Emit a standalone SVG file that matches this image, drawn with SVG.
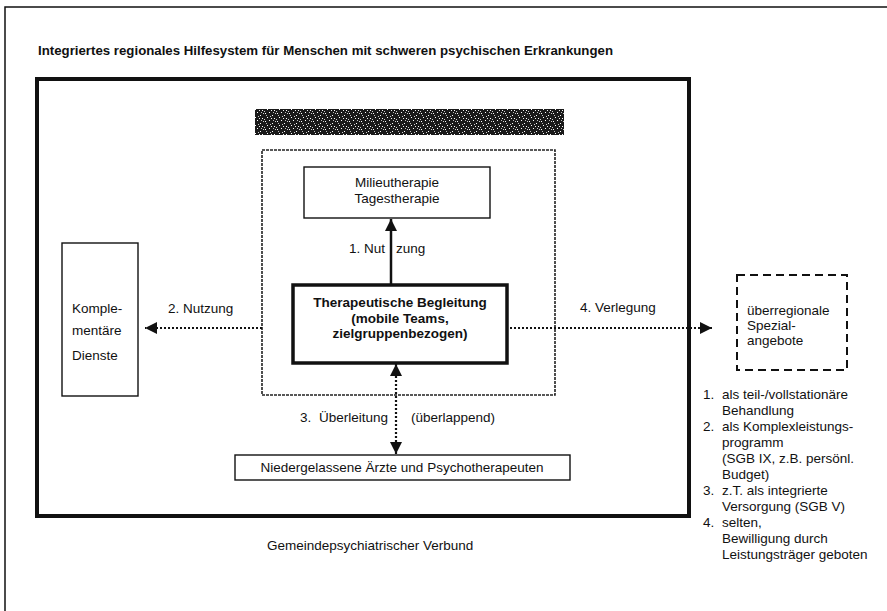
<svg xmlns="http://www.w3.org/2000/svg" width="887" height="611" viewBox="0 0 887 611">
<style>
text{font-family:"Liberation Sans",Arial,sans-serif;fill:#111;font-size:13.5px}
.b{font-weight:bold}
.box{fill:#fff;stroke:#111;stroke-width:1.4}
.dot{stroke:#111;stroke-width:2.2;stroke-dasharray:2,2;fill:none}
</style>
<defs>
<pattern id="noise" width="12" height="8" patternUnits="userSpaceOnUse">
<rect width="12" height="8" fill="#1a1a1a"/>
<rect x="1" y="1" width="1" height="1" fill="#fff"/>
<rect x="5" y="0" width="1" height="1" fill="#fff"/>
<rect x="8" y="3" width="1" height="1" fill="#fff"/>
<rect x="3" y="5" width="1" height="1" fill="#fff"/>
<rect x="10" y="6" width="1" height="1" fill="#fff"/>
<rect x="6" y="4" width="1" height="1" fill="#ccc"/>
<rect x="0" y="7" width="1" height="1" fill="#ccc"/>
<rect x="11" y="1" width="1" height="1" fill="#ccc"/>
<rect x="2" y="3" width="1" height="1" fill="#bbb"/>
<rect x="9" y="0" width="1" height="1" fill="#bbb"/>
<rect x="7" y="6" width="1" height="1" fill="#eee"/>
</pattern>
<marker id="ah" viewBox="0 0 10 10" refX="10" refY="5" markerWidth="12" markerHeight="12" markerUnits="userSpaceOnUse" orient="auto-start-reverse">
<path d="M0,0 L10,5 L0,10 z" fill="#111"/>
</marker>
</defs>
<rect width="887" height="611" fill="#fff"/>
<g id="frame">
<path d="M5,611 V7 H887" fill="none" stroke="#111" stroke-width="1.5"/>
<text class="b" x="38" y="55" font-size="14" textLength="575" lengthAdjust="spacingAndGlyphs">Integriertes regionales Hilfesystem für Menschen mit schweren psychischen Erkrankungen</text>
</g>
<g id="verbund">
<rect x="37" y="79" width="652" height="437" fill="none" stroke="#111" stroke-width="4"/>
<text x="267" y="550">Gemeindepsychiatrischer Verbund</text>
</g>
<g id="header">
<rect x="255" y="109" width="309" height="26" fill="url(#noise)"/>
</g>
<g id="klinik">
<rect x="262" y="150" width="293" height="245" fill="none" stroke="#222" stroke-width="1.6" stroke-dasharray="3,1"/>
</g>
<g id="milieu">
<rect class="box" x="304" y="167" width="186" height="51"/>
<text x="397" y="187" text-anchor="middle">Milieutherapie</text>
<text x="397" y="203" text-anchor="middle">Tagestherapie</text>
</g>
<g id="begleitung">
<rect x="293" y="285" width="214" height="78" fill="#fff" stroke="#111" stroke-width="3.5"/>
<text class="b" x="400" y="307" text-anchor="middle">Therapeutische Begleitung</text>
<text class="b" x="400" y="323" text-anchor="middle">(mobile Teams,</text>
<text class="b" x="400" y="338" text-anchor="middle">zielgruppenbezogen)</text>
</g>
<g id="komplementaer">
<rect class="box" x="62" y="243" width="76" height="153"/>
<text x="72" y="313">Komple-</text>
<text x="72" y="335">mentäre</text>
<text x="72" y="360">Dienste</text>
</g>
<g id="ueberregional">
<rect x="737" y="275" width="110" height="95" fill="#fff" stroke="#111" stroke-width="2" stroke-dasharray="8,5"/>
<text x="747" y="315">überregionale</text>
<text x="747" y="330">Spezial-</text>
<text x="747" y="345">angebote</text>
</g>
<g id="niedergelassene">
<rect class="box" x="235" y="455" width="335" height="25"/>
<text x="402" y="472" text-anchor="middle">Niedergelassene Ärzte und Psychotherapeuten</text>
</g>
<g id="connectors">
<line x1="391" y1="285" x2="391" y2="219" stroke="#111" stroke-width="2.5" marker-end="url(#ah)"/>
<line class="dot" x1="262" y1="328" x2="145" y2="328" marker-end="url(#ah)"/>
<line class="dot" x1="510" y1="328" x2="712" y2="328" marker-end="url(#ah)"/>
<line class="dot" x1="396" y1="364" x2="396" y2="454" marker-start="url(#ah)" marker-end="url(#ah)"/>
</g>
<g id="labels">
<text x="385" y="253" text-anchor="end">1. Nut</text><text x="396" y="253">zung</text>
<text x="168" y="313">2. Nutzung</text>
<text x="580" y="312">4. Verlegung</text>
<text x="300" y="422">3.</text>
<text x="388" y="422" text-anchor="end">Überleitung</text>
<text x="411" y="422">(überlappend)</text>
</g>
<g id="legende">
<text x="703" y="399">1.</text><text x="722" y="399">als teil-/vollstationäre</text>
<text x="722" y="415">Behandlung</text>
<text x="703" y="431">2.</text><text x="722" y="431">als Komplexleistungs-</text>
<text x="722" y="447">programm</text>
<text x="722" y="463">(SGB IX, z.B. persönl.</text>
<text x="722" y="479">Budget)</text>
<text x="703" y="495">3.</text><text x="722" y="495">z.T. als integrierte</text>
<text x="722" y="511">Versorgung (SGB V)</text>
<text x="703" y="527">4.</text><text x="722" y="527">selten,</text>
<text x="722" y="543">Bewilligung durch</text>
<text x="722" y="559">Leistungsträger geboten</text>
</g>
</svg>
